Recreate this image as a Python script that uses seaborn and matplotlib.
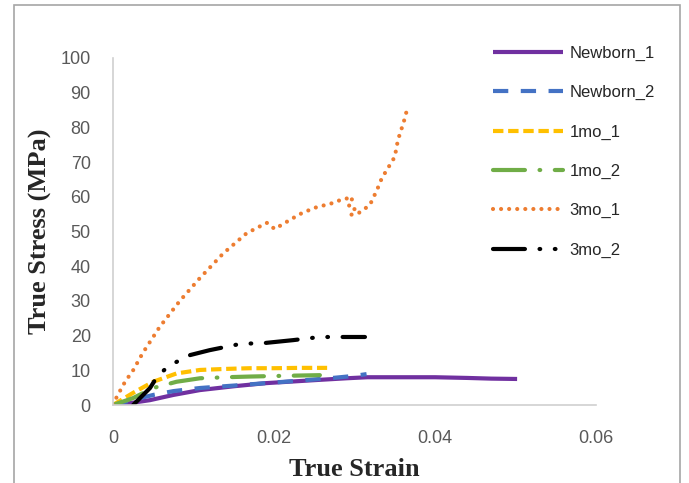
import matplotlib
matplotlib.use("Agg")
import matplotlib.pyplot as plt
import seaborn as sns
import pandas as pd
from matplotlib.patches import Rectangle

# ---- data ----
nb1_x = [0, 0.002, 0.0046, 0.0075, 0.0108, 0.015, 0.019, 0.0225, 0.0253, 0.029, 0.0316, 0.036, 0.040, 0.044, 0.047, 0.0502]
nb1_y = [0, 0.5, 1.4, 2.9, 4.3, 5.4, 6.3, 6.8, 7.2, 7.7, 8.0, 8.0, 8.0, 7.8, 7.6, 7.5]

nb2_x = [0, 0.002, 0.005, 0.0075, 0.0108, 0.015, 0.019, 0.023, 0.0273, 0.030, 0.0315]
nb2_y = [0, 1.2, 2.9, 4.0, 4.9, 5.6, 6.3, 7.0, 7.8, 8.4, 8.9]

m1a_x = [0, 0.0025, 0.005, 0.0079, 0.0108, 0.014, 0.017, 0.020, 0.0232, 0.0266]
m1a_y = [0, 3.5, 6.7, 9.1, 10.1, 10.4, 10.6, 10.6, 10.7, 10.7]

m1b_x = [0, 0.0025, 0.005, 0.0079, 0.0108, 0.014, 0.017, 0.021, 0.0257]
m1b_y = [0, 2.0, 4.9, 6.7, 7.7, 8.0, 8.2, 8.4, 8.6]

m3a_x = [0, 0.0005, 0.0015, 0.0025, 0.0037, 0.0058, 0.0083, 0.0108, 0.0137, 0.0166, 0.0191,
         0.0201, 0.021, 0.0232, 0.025, 0.0273, 0.0286, 0.0298, 0.0292, 0.0301, 0.0295, 0.0305,
         0.0319, 0.0328, 0.0334, 0.0344, 0.035, 0.0354, 0.0359, 0.0363, 0.0366]
m3a_y = [0, 2.5, 6.7, 10.0, 15.0, 22.5, 30.0, 36.6, 43.7, 49.5, 52.5,
         50.7, 52.0, 55.0, 56.8, 58.2, 59.4, 59.7, 57.6, 56.8, 54.8, 55.3,
         57.6, 62.0, 65.4, 69.2, 71.5, 76.4, 80.0, 83.0, 86.0]

m3b_x = [0.0025, 0.0046, 0.0056, 0.0071, 0.0096, 0.012, 0.0158, 0.019, 0.0224, 0.0257, 0.0313]
m3b_y = [0, 4.9, 8.6, 11.5, 14.4, 15.8, 17.6, 17.9, 18.7, 19.6, 19.6]

labels = ["Newborn_1", "Newborn_2", "1mo_1", "1mo_2", "3mo_1", "3mo_2"]
xs = [nb1_x, nb2_x, m1a_x, m1b_x, m3a_x, m3b_x]
ys = [nb1_y, nb2_y, m1a_y, m1b_y, m3a_y, m3b_y]
colors = ["#7030A0", "#4472C4", "#FFC000", "#70AD47", "#ED7D31", "#000000"]
dashes = [None, (11, 9), (7.5, 3.4), (23, 10.5, 0.5, 10.5), (0.01, 5.8),
          (23, 10.5, 0.5, 10.5, 0.5, 10.5)]

sns.set_theme(style="white")
plt.rcParams["lines.scale_dashes"] = False
plt.rcParams["font.family"] = ["Liberation Sans", "DejaVu Sans"]

fig = plt.figure(figsize=(6.89, 4.83), dpi=100)
ax = fig.add_axes([113/689, 1-405/483, (596-113)/689, (405-58)/483])

handles = []
for lab, x, y, c, d in zip(labels, xs, ys, colors, dashes):
    df = pd.DataFrame({"x": x, "y": y})
    before = len(ax.get_lines())
    sns.lineplot(data=df, x="x", y="y", ax=ax, sort=False, estimator=None,
                 color=c, lw=3.0, label=lab, legend=False)
    line = ax.get_lines()[before]
    if d is not None:
        line.set_dashes(d)
    line.set_dash_capstyle("round" if lab in ("3mo_1", "1mo_2", "3mo_2") else "butt")
    line.set_solid_capstyle("butt")
    handles.append(line)

ax.set_xlim(0, 0.06)
ax.set_ylim(0, 100)
ax.set_xticks([0, 0.02, 0.04, 0.06])
ax.set_xticklabels(["0", "0.02", "0.04", "0.06"])
ax.set_yticks(range(0, 101, 10))
ax.tick_params(axis="both", length=0, labelsize=13, labelcolor="#595959")
ax.tick_params(axis="y", pad=16)
ax.tick_params(axis="x", pad=18)
for s in ["top", "right"]:
    ax.spines[s].set_visible(False)
for s in ["left", "bottom"]:
    ax.spines[s].set_color("#D0D0D0")
    ax.spines[s].set_linewidth(1.2)

ax.set_xlabel("True Strain", fontsize=19, fontweight="bold",
              family=["Liberation Serif", "DejaVu Serif"], labelpad=8)
ax.set_ylabel("True Stress (MPa)", fontsize=19, fontweight="bold",
              family=["Liberation Serif", "DejaVu Serif"], labelpad=6)

fig.legend(handles=handles, labels=labels, loc="upper left",
           bbox_to_anchor=(493/689, 1-46/483), frameon=False, fontsize=12,
           handlelength=4.2, handletextpad=0.4, labelspacing=1.45, borderpad=0,
           borderaxespad=0)

fig.add_artist(Rectangle((14/689, -0.05), (680-14)/689, 1-5/483+0.05,
                         transform=fig.transFigure, fill=False,
                         edgecolor="#A6A6A6", lw=1.2))

fig.savefig("out.png", dpi=100)
